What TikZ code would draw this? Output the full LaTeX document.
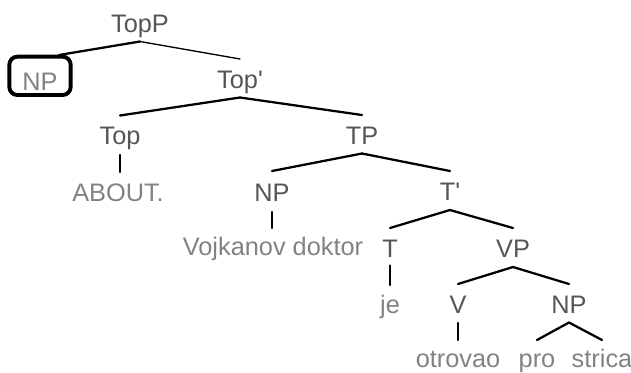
\documentclass[tikz,border=0pt]{standalone}
\usepackage{fontspec}
\setmainfont{Liberation Sans}
\usetikzlibrary{calc}
\definecolor{catgray}{HTML}{555555}
\definecolor{leafgray}{HTML}{828282}
\begin{document}
\begin{tikzpicture}[x=0.75pt,y=-0.75pt,
  every node/.style={inner sep=0pt,anchor=base,font=\fontsize{19pt}{22pt}\selectfont},
  cat/.style={text=catgray},
  leaf/.style={text=leafgray},
  branch/.style={line width=1.7pt,line cap=round},
  thinbranch/.style={line width=1pt,line cap=round},
  focusbox/.style={draw,line width=2.9pt,rounded corners=6pt,minimum width=46pt,
    text height=25pt,text depth=3.75pt,text=leafgray}]
\useasboundingbox (0,0) rectangle (631,372);

% categories
\node[cat] (TopP) at (140,32) {TopP};
\node[focusbox] (Spec) at (40,90) {NP};
\node[cat] (Topbar) at (240,88) {Top\textquotesingle};
\node[cat] (Top) at (120,144) {Top};
\node[cat] (TP) at (362,144) {TP};
\node[cat] (NPsubj) at (272,201) {NP};
\node[cat] (Tbar) at (450,200) {T\textquotesingle};
\node[cat] (T) at (390,257) {T};
\node[cat] (VP) at (513,257) {VP};
\node[cat] (V) at (458,313) {V};
\node[cat] (NPobj) at (569,313) {NP};

% words
\node[leaf] (about) at (118,201) {ABOUT.};
\node[leaf] (vojk) at (273,255) {Vojkanov doktor};
\node[leaf] (je) at (390,313) {je};
\node[leaf] (otrov) at (458,367) {otrovao};
\node[leaf] (pro) at (537,367) {pro};
\node[leaf] (strica) at (602,367) {strica};

% branches
\draw[branch] ($(TopP.base)+(0,9.5)$) -- ($(Spec.base)+(19,-35)$);
\draw[thinbranch] ($(TopP.base)+(0,9.5)$) -- ($(Topbar.base)+(0,-29)$);

\draw[branch] ($(Topbar.base)+(0,9.5)$) -- ($(Top.base)+(0,-28.5)$);
\draw[branch] ($(Topbar.base)+(0,9.5)$) -- ($(TP.base)+(0,-29)$);
\draw[branch] ($(Top.base)+(0,11)$) -- ($(Top.base |- about.base)+(0,-29)$);

\draw[branch] ($(TP.base)+(0,9.5)$) -- ($(NPsubj.base)+(0,-30)$);
\draw[branch] ($(TP.base)+(0,9.5)$) -- ($(Tbar.base)+(0,-29)$);
\draw[branch] ($(NPsubj.base)+(0,11)$) -- ($(NPsubj.base |- vojk.base)+(0,-27)$);

\draw[branch] ($(Tbar.base)+(0,10)$) -- ($(T.base)+(0,-29)$);
\draw[branch] ($(Tbar.base)+(0,10)$) -- ($(VP.base)+(0,-29)$);
\draw[branch] ($(T.base)+(0,8.5)$) -- ($(T.base |- je.base)+(0,-28)$);

\draw[branch] ($(VP.base)+(0,10)$) -- ($(V.base)+(0,-29)$);
\draw[branch] ($(VP.base)+(0,10)$) -- ($(NPobj.base)+(0,-29)$);
\draw[branch] ($(V.base)+(0,10)$) -- ($(V.base |- otrov.base)+(0,-27)$);

\draw[branch] ($(NPobj.base)+(0,9.5)$) -- ($(pro.base)+(0,-27)$);
\draw[branch] ($(NPobj.base)+(0,9.5)$) -- ($(strica.base)+(0,-27)$);
\end{tikzpicture}
\end{document}
